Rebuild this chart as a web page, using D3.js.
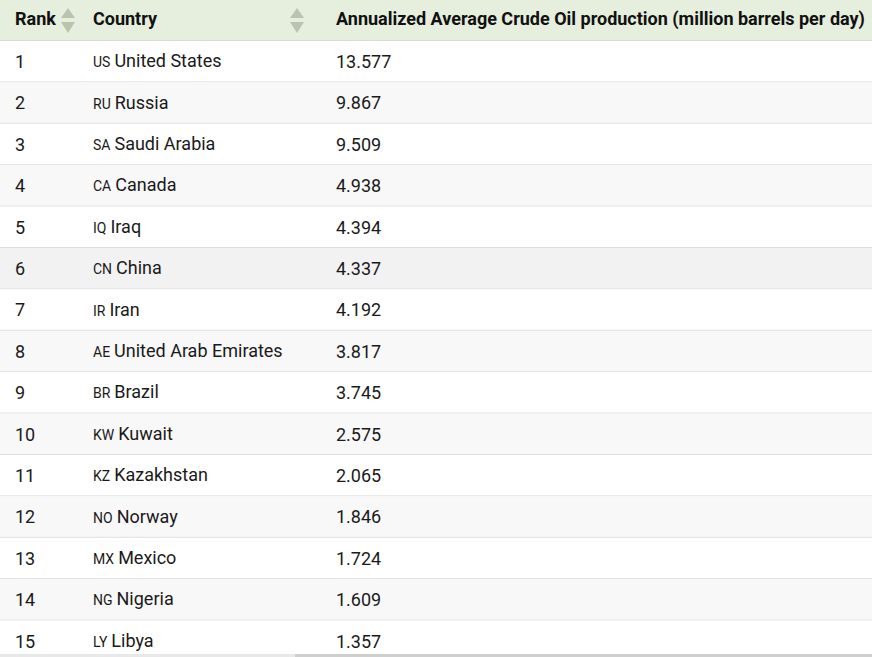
<!DOCTYPE html>
<html><head><meta charset="utf-8">
<script src="https://cdn.jsdelivr.net/npm/d3@7"></script>
<style>
html,body{margin:0;padding:0;background:#fff;overflow:hidden}
svg{display:block;font-family:Roboto,"Noto Sans",sans-serif}
</style></head>
<body>
<svg id="c" width="872" height="657"></svg>
<script>
const headers = ["Rank","Country","Annualized Average Crude Oil production (million barrels per day)"];
const ranks = [1,2,3,4,5,6,7,8,9,10,11,12,13,14,15];
const codes = ["US","RU","SA","CA","IQ","CN","IR","AE","BR","KW","KZ","NO","MX","NG","LY"];
const countries = ["United States","Russia","Saudi Arabia","Canada","Iraq","China","Iran","United Arab Emirates","Brazil","Kuwait","Kazakhstan","Norway","Mexico","Nigeria","Libya"];
const production = [13.577,9.867,9.509,4.938,4.394,4.337,4.192,3.817,3.745,2.575,2.065,1.846,1.724,1.609,1.357];

const W = 872, headH = 41, rowH = 41.4;
const svg = d3.select("#c");
const y = d3.scaleBand().domain(ranks).range([headH, headH + rowH*ranks.length]).paddingInner(0);
const colX = [15, 93, 336];

// header
svg.append("rect").attr("x",0).attr("y",0).attr("width",W).attr("height",headH).attr("fill","#e6eedd");
svg.append("line").attr("x1",0).attr("x2",W).attr("y1",headH-0.5).attr("y2",headH-0.5).attr("stroke","#d6dccf");
svg.selectAll("text.h").data(headers).join("text").attr("class","h")
  .attr("x",(d,i)=>colX[i]).attr("y",headH/2 - 1.5).attr("dy","0.35em")
  .attr("font-size",18).attr("font-weight","bold").attr("fill","#111").text(d=>d);

// sort arrows
function arrows(cx){
  const g = svg.append("g").attr("fill","#b9c4ae");
  g.append("path").attr("d",`M${cx-7},${18} L${cx},${8} L${cx+7},${18} Z`);
  g.append("path").attr("d",`M${cx-7},${22} L${cx},${33} L${cx+7},${22} Z`);
}
arrows(68); arrows(297);

// rows
const rows = svg.selectAll("g.row").data(ranks).join("g").attr("class","row")
  .attr("transform",d=>`translate(0,${y(d)})`);
rows.append("rect").attr("width",W).attr("height",y.bandwidth())
  .attr("fill",(d,i)=> i===5 ? "#f2f2f2" : (i%2===1 ? "#f8f8f8" : "#ffffff"));
rows.append("line").attr("x1",0).attr("x2",W)
  .attr("y1",y.bandwidth()-0.5).attr("y2",y.bandwidth()-0.5).attr("stroke","#dddddd");
const ty = y.bandwidth()/2;
rows.append("text").attr("x",colX[0]).attr("y",ty).attr("dy","0.35em")
  .attr("font-size",18).attr("fill","#1a1a1a").text(d=>d);
const ct = rows.append("text").attr("x",colX[1]).attr("y",ty).attr("dy","0.35em").attr("fill","#1a1a1a");
ct.append("tspan").attr("font-size",14).text((d,i)=>codes[i]);
ct.append("tspan").attr("font-size",18).attr("dx",4).text((d,i)=>countries[i]);
rows.append("text").attr("x",colX[2]).attr("y",ty).attr("dy","0.35em")
  .attr("font-size",18).attr("fill","#1a1a1a").text((d,i)=>d3.format(".3f")(production[i]));

// bottom scrollbar
svg.append("rect").attr("x",0).attr("y",654).attr("width",W).attr("height",3).attr("fill","#e8e8e8");
svg.append("rect").attr("x",295).attr("y",654).attr("width",W-295).attr("height",3).attr("fill","#cfcfcf");
</script>
</body></html>
